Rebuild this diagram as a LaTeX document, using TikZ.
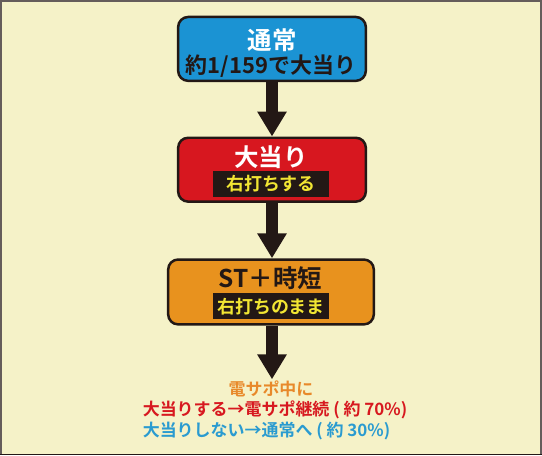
\documentclass[tikz,border=0pt]{standalone}
\usepackage{fontspec}
\setmainfont{Noto Sans CJK JP}[BoldFont={Noto Sans CJK JP Bold}]
\usetikzlibrary{arrows.meta}
\definecolor{paper}{HTML}{F5F2C8}
\definecolor{ink}{HTML}{231815}
\definecolor{normalblue}{HTML}{1B93D3}
\definecolor{hitred}{HTML}{D7171F}
\definecolor{storange}{HTML}{E8921E}
\definecolor{tagyellow}{HTML}{F2E633}
\definecolor{noteorange}{HTML}{E8892A}
\definecolor{notered}{HTML}{D7181F}
\definecolor{noteblue}{HTML}{2A9BD0}
\begin{document}
\begin{tikzpicture}[x=1pt, y=-1pt,
    stage/.style={draw=ink, line width=2.5pt, rounded corners=10pt, minimum height=64pt, inner sep=0pt},
    title/.style={font=\bfseries\fontsize{24.5}{24.5}\selectfont, inner sep=0pt},
    tag/.style={fill=ink, text=tagyellow, minimum width=116pt, minimum height=26pt, inner sep=0pt, font=\bfseries\fontsize{18}{18}\selectfont},
    note/.style={font=\bfseries\fontsize{17}{17}\selectfont, inner sep=0pt},
    flow/.style={draw=ink, line width=12pt, -{Triangle[width=28pt, length=25pt]}}]
    \draw [draw=ink!70, fill=paper, line width=1.5pt] (0.75, 0.75) rectangle (541.25, 455.25);
    \draw [ink, line width=1pt] (0, 455) -- (542, 455);
    % boxes
    \node [stage, fill=normalblue, minimum width=188pt] (normal) at (272, 49) {};
    \node [stage, fill=hitred, minimum width=188pt] (hit) at (272, 170) {};
    \node [stage, fill=storange, minimum width=206pt, minimum height=65pt] (st) at (271, 292.5) {};
    \node [title, text=white] (normaltitle) at (272, 40) {通常};
    \node [title, text=ink, font=\bfseries\fontsize{22}{22}\selectfont] (normalrate) at (271, 66) {約1/159で大当り};
    \node [title, text=white] (hittitle) at (271, 157) {大当り};
    \node [tag] (hittag) at (271, 184) {右打ちする};
    \node [title, text=ink] (sttitle) at (270.5, 279) {ST＋時短};
    \node [tag] (sttag) at (271, 307) {右打ちのまま};
    % arrows
    \coordinate (notetop) at (272, 380);
    \draw [flow] (normal.south) -- (hit.north);
    \draw [flow] (hit.south) -- ([xshift=1pt]st.north);
    \draw [flow] ([xshift=1pt]st.south) -- (notetop);
    % notes
    \node [note, text=noteorange] (notehead) at (271, 390) {電サポ中に};
    \node [note, text=notered] (notehit) at (275, 411) {大当りする→電サポ継続 ( 約 70\%)};
    \node [note, text=noteblue] (notemiss) at (266.5, 432) {大当りしない→通常へ ( 約 30\%)};
\end{tikzpicture}
\end{document}
